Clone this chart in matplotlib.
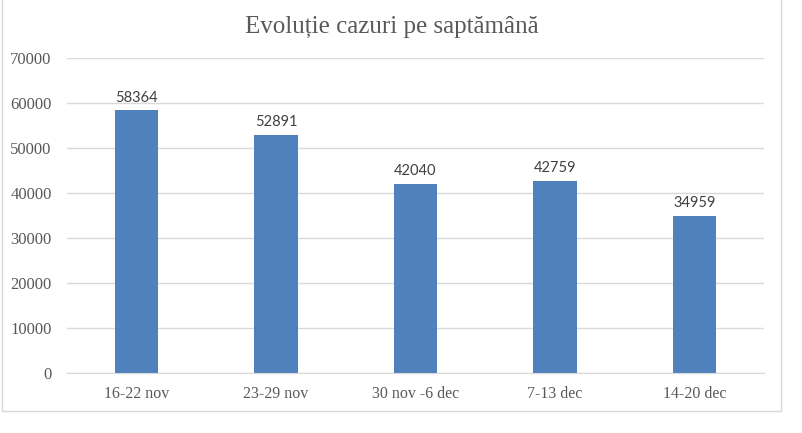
import matplotlib
matplotlib.use("Agg")
import matplotlib.pyplot as plt
from matplotlib.patches import Rectangle

saptamani = ["16-22 nov", "23-29 nov", "30 nov -6 dec", "7-13 dec", "14-20 dec"]
cazuri = [58364, 52891, 42040, 42759, 34959]
y_ticks = [0, 10000, 20000, 30000, 40000, 50000, 60000, 70000]

culoare_bara = "#4F81BD"
gri_text = "#595959"
gri_linie = "#D9D9D9"
serif = ["Liberation Serif", "DejaVu Serif"]

fig = plt.figure(figsize=(8.03, 4.33), dpi=100)
ax = fig.add_axes([67 / 803, 1 - 373 / 433, 697 / 803, 315 / 433])

x = range(len(saptamani))
bare = ax.bar(x, cazuri, width=0.31, color=culoare_bara, zorder=3)

for b, v in zip(bare, cazuri):
    ax.annotate(str(v), (b.get_x() + b.get_width() / 2, v),
                xytext=(0, 4), textcoords="offset points",
                ha="center", va="bottom", fontsize=10.5,
                color="#404040", family=["Lato", "DejaVu Sans"])

ax.set_xlim(-0.5, len(saptamani) - 0.5)
ax.set_ylim(0, 70000)
ax.set_yticks(y_ticks)
ax.set_yticklabels([str(t) for t in y_ticks], family=serif, fontsize=12, color=gri_text)
ax.set_xticks(list(x))
ax.set_xticklabels(saptamani, family=serif, fontsize=11.5, color=gri_text)
ax.tick_params(axis="both", length=0)
ax.tick_params(axis="y", pad=11)
ax.tick_params(axis="x", pad=9)

ax.grid(axis="y", color=gri_linie, linewidth=1, zorder=0)
for s in ["top", "right", "left"]:
    ax.spines[s].set_visible(False)
ax.spines["bottom"].set_color(gri_linie)
ax.spines["bottom"].set_zorder(4)

fig.text(392 / 803, 1 - 27 / 433, "Evoluție cazuri pe saptămână",
         ha="center", va="center", fontsize=18, color=gri_text, family=serif)

# chenarul graficului
fig.patches.append(Rectangle((2.5 / 803, 1 - 411 / 433), 779 / 803, 0.99,
                             transform=fig.transFigure, fill=False,
                             edgecolor=gri_linie, linewidth=1))

fig.savefig("out.png", dpi=100)
